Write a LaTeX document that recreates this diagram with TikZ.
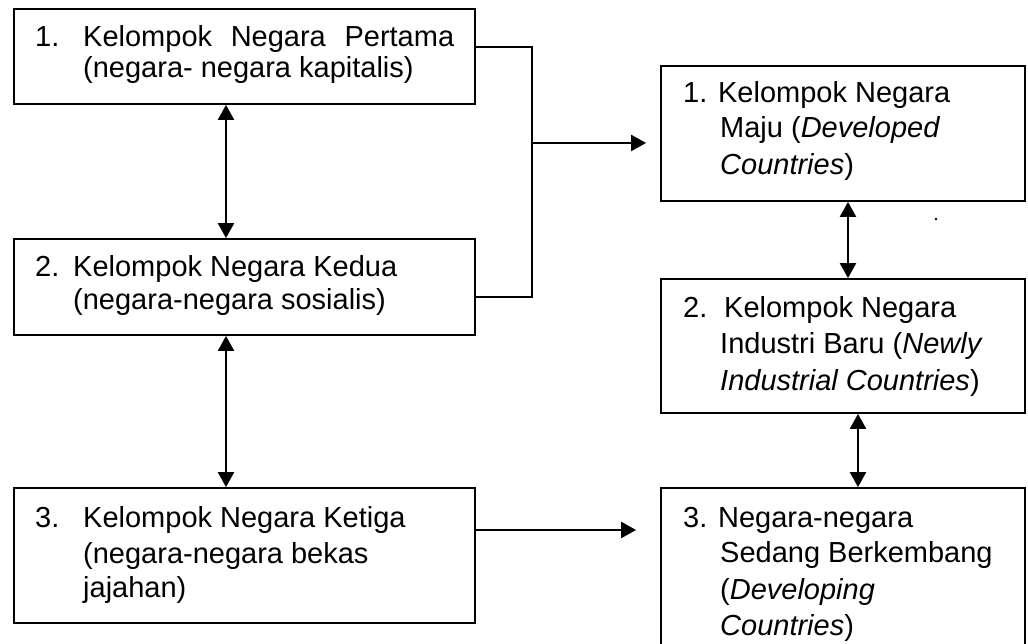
\documentclass[tikz,border=0pt]{standalone}
\usepackage{fontspec}
\setmainfont{Liberation Sans}
\usetikzlibrary{arrows.meta,calc}
\begin{document}
\begin{tikzpicture}[x=1pt,y=-1pt,
  box/.style={draw=black,line width=1.8pt,inner sep=0pt,minimum width=#1},
  box/.default=461pt,
  txt/.style={anchor=base west,inner sep=0pt,font=\fontsize{29}{33}\selectfont},
  link/.style={line width=1.8pt},
  arr/.style={line width=2.3pt,-{Triangle[length=15pt,width=16pt]}},
  dbl/.style={line width=2.3pt,{Triangle[length=15pt,width=16pt]}-{Triangle[length=15pt,width=16pt]}}]
\useasboundingbox (0,0) rectangle (1028,644);
\clip (0,0) rectangle (1028,644);
% left boxes
\node[box,minimum height=95pt] (b1) at (244.5,56.5) {};
\node[box,minimum height=96pt] (b2) at (244.5,287) {};
\node[box,minimum height=135pt] (b3) at (244.5,555.5) {};
% right boxes
\node[box=364pt,minimum height=135pt] (r1) at (843,133.5) {};
\node[box=364pt,minimum height=134pt] (r2) at (843,346) {};
\node[box=364pt,minimum height=200pt] (r3) at (843,588) {};
% texts left
\node[txt] (t1n) at (35,47) {1.};
\node[txt] (t1a) at (83,47) {\hbox to 371pt{Kelompok\hfill Negara\hfill Pertama}};
\node[txt] (t1b) at (83,78) {(negara- negara kapitalis)};
\node[txt] (t2n) at (35,277) {2.};
\node[txt] (t2a) at (73,277) {Kelompok Negara Kedua};
\node[txt] (t2b) at (73,310) {(negara-negara sosialis)};
\node[txt] (t3n) at (35,527) {3.};
\node[txt] (t3a) at (83,527) {Kelompok Negara Ketiga};
\node[txt] (t3b) at (83,563) {(negara-negara bekas};
\node[txt] (t3c) at (83,597) {jajahan)};
% texts right
\node[txt] (u1a) at (683,103) {1. Kelompok Negara};
\node[txt] (u1b) at (720,138) {Maju (\textit{Developed}};
\node[txt] (u1c) at (720,175) {\textit{Countries})};
\node[txt] (u2n) at (683,317) {2.};
\node[txt] (u2a) at (724,317) {Kelompok Negara};
\node[txt] (u2b) at (720,353) {Industri Baru (\textit{Newly}};
\node[txt] (u2c) at (720,390) {\textit{Industrial Countries})};
\node[txt] (u3a) at (683,527) {3. Negara-negara};
\node[txt] (u3b) at (720,562) {Sedang Berkembang};
\node[txt] (u3c) at (720,599) {(\textit{Developing}};
\node[txt] (u3d) at (720,635) {\textit{Countries})};
% stray dot
\fill (936,219) circle (1.3pt);
% helper coordinates
\coordinate (ax) at (226,0);
\coordinate (rx1) at (848,0);
\coordinate (rx2) at (858,0);
\coordinate (k1) at (475,47);
\coordinate (k2) at (475,297);
\coordinate (j) at (532,143);
\coordinate (a3) at (475,530);
% bracket
\draw[link] (k1) -- (k1 -| j) -- (k2 -| j) -- (k2);
\draw[arr,shorten >=14pt] (j) -- (j -| r1.west);
\draw[arr,shorten >=24pt] (a3) -- (a3 -| r3.west);
% vertical double arrows
\draw[dbl] (b1.south -| ax) -- (b2.north -| ax);
\draw[dbl] (b2.south -| ax) -- (b3.north -| ax);
\draw[dbl] (r1.south -| rx1) -- (r2.north -| rx1);
\draw[dbl] (r2.south -| rx2) -- (r3.north -| rx2);
\end{tikzpicture}
\end{document}
